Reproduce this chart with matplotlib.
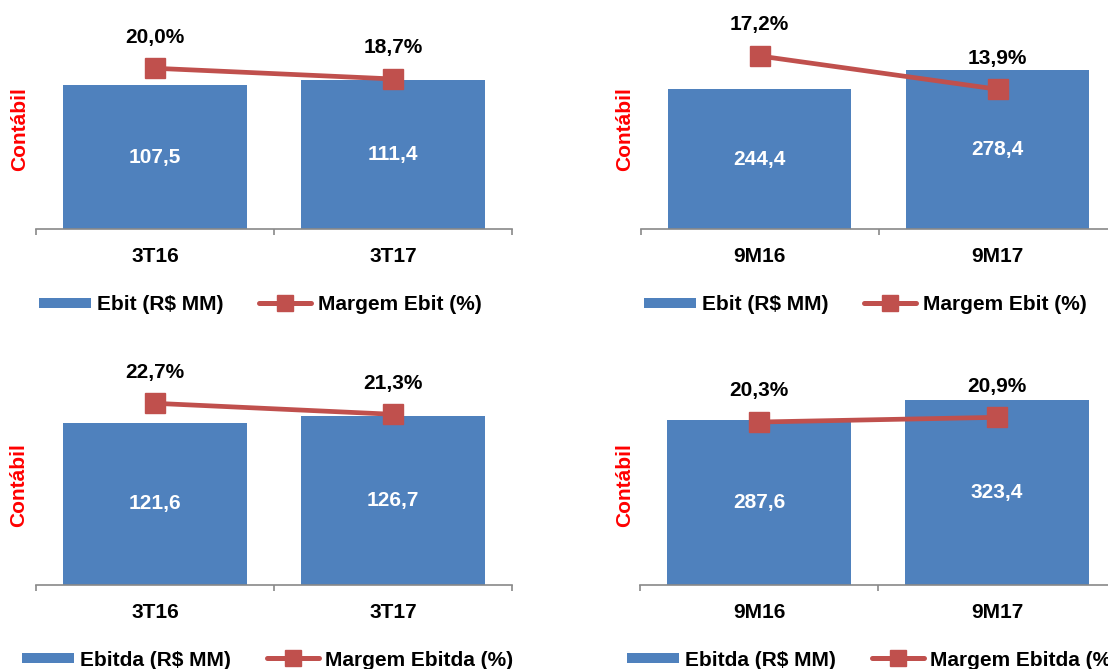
import matplotlib
matplotlib.use("Agg")
import matplotlib.pyplot as plt
from matplotlib.lines import Line2D
from matplotlib.ticker import FixedLocator

# ---------------- data ----------------
periods_3t = ["3T16", "3T17"]
periods_9m = ["9M16", "9M17"]
ebit_3t = [107.5, 111.4]
margem_ebit_3t = [20.0, 18.7]
ebit_9m = [244.4, 278.4]
margem_ebit_9m = [17.2, 13.9]
ebitda_3t = [121.6, 126.7]
margem_ebitda_3t = [22.7, 21.3]
ebitda_9m = [287.6, 323.4]
margem_ebitda_9m = [20.3, 20.9]

BLUE = "#4F81BD"
RED = "#C0504D"
GRAY = "#898989"
FONT = "Liberation Sans"
FS = 15

W, H = 1108, 669
fig = plt.figure(figsize=(W / 100, H / 100), dpi=100)


def fmt(v, pct=False):
    s = f"{v:.1f}".replace(".", ",")
    return s + "%" if pct else s


def panel(x0, ybase, cats, bars, margins, bar_top, m_lim, bar_name, line_name,
          contabil_xy, legend_xy):
    height_px = 219
    ax = fig.add_axes([x0 / W, (H - ybase) / H, 476 / W, height_px / H])
    x = list(range(len(cats)))
    ax.bar(x, bars, width=0.77, color=BLUE, zorder=2)
    ax.set_xlim(-0.5, 1.5)
    ax.set_ylim(0, bar_top)
    for s in ["left", "right", "top"]:
        ax.spines[s].set_visible(False)
    ax.spines["bottom"].set_color(GRAY)
    ax.spines["bottom"].set_linewidth(1.2)
    ax.set_yticks([])
    ax.set_xticks(x)
    ax.set_xticklabels(cats, fontfamily=FONT, fontsize=FS, fontweight="bold")
    ax.tick_params(axis="x", which="major", length=0, pad=13)
    ax.xaxis.set_minor_locator(FixedLocator([-0.5, 0.5, 1.5]))
    ax.tick_params(axis="x", which="minor", length=4.5, width=1.2,
                   color=GRAY, direction="out")
    for xi, v in zip(x, bars):
        ax.text(xi, v / 2, fmt(v), ha="center", va="center", color="white",
                fontfamily=FONT, fontsize=FS, fontweight="bold", zorder=3)

    ax2 = ax.twinx()
    ax2.set_ylim(*m_lim)
    ax2.plot(x, margins, color=RED, lw=3.4, marker="s", markersize=14.5,
             markeredgecolor=RED, markerfacecolor=RED, zorder=4)
    for s in ax2.spines.values():
        s.set_visible(False)
    ax2.set_yticks([])
    for xi, v in zip(x, margins):
        ax2.annotate(fmt(v, True), (xi, v), xytext=(0, 22.5),
                     textcoords="offset points", ha="center", va="center",
                     fontfamily=FONT, fontsize=FS, fontweight="bold",
                     color="black")

    fig.text(contabil_xy[0] / W, 1 - contabil_xy[1] / H, "Contábil",
             rotation=90, ha="center", va="center", color="#FF0000",
             fontfamily=FONT, fontsize=FS, fontweight="bold")

    handles = [
        Line2D([], [], color=BLUE, lw=7.2, solid_capstyle="butt"),
        Line2D([], [], color=RED, lw=3.6, marker="s", markersize=11,
               solid_capstyle="round"),
    ]
    fig.legend(handles, [bar_name, line_name], loc="center left",
               bbox_to_anchor=(legend_xy[0] / W, 1 - legend_xy[1] / H),
               ncol=2, frameon=False, borderpad=0, borderaxespad=0,
               handlelength=2.5, handletextpad=0.3, columnspacing=1.7,
               prop={"family": FONT, "size": FS, "weight": "bold"})


panel(36, 229, periods_3t, ebit_3t, margem_ebit_3t, 163.6, (0.47, 27.08),
      "Ebit (R$ MM)", "Margem Ebit (%)", (20, 129), (39, 305))
panel(640.7, 229, periods_9m, ebit_9m, margem_ebit_9m, 382.5, (0.05, 21.76),
      "Ebit (R$ MM)", "Margem Ebit (%)", (625, 129), (644, 305))
panel(36, 585, periods_3t, ebitda_3t, margem_ebitda_3t, 164.0, (-0.43, 27.45),
      "Ebitda (R$ MM)", "Margem Ebitda (%)", (19, 485), (22, 660))
panel(640, 585, periods_9m, ebitda_9m, margem_ebitda_9m, 382.0, (-0.5, 27.45),
      "Ebitda (R$ MM)", "Margem Ebitda (%)", (625, 485), (627, 660))

fig.savefig("out.png", dpi=100)
